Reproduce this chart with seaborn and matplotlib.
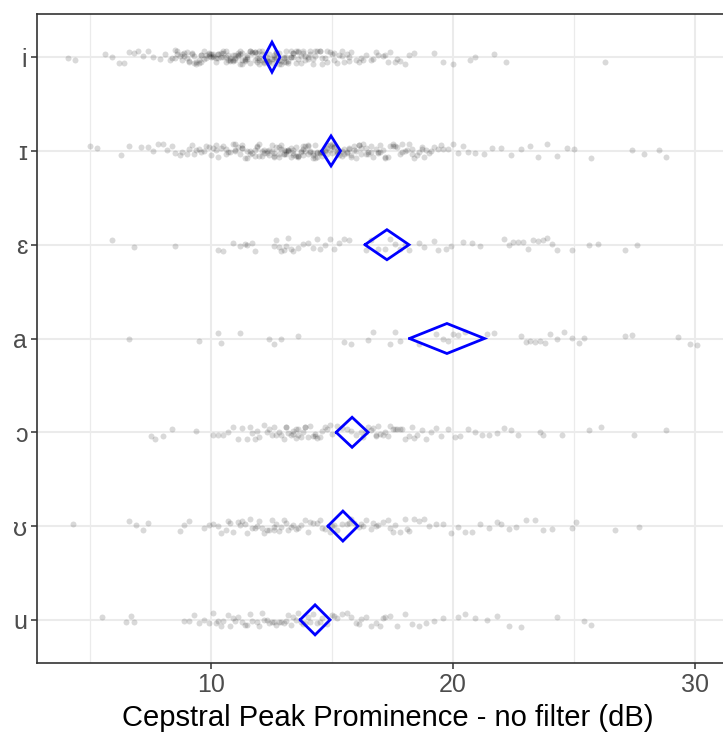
import numpy as np
import pandas as pd
import matplotlib
matplotlib.use("Agg")
import matplotlib.pyplot as plt
import seaborn as sns
from matplotlib.ticker import MultipleLocator

vowels = ["i", "ɪ", "ɛ", "a", "ɔ", "ʊ", "u"]

i_vals = [4.1, 4.4, 5.6, 5.9, 6.2, 6.4, 6.6, 6.8, 7.0, 7.2, 7.4, 7.6, 7.9, 8.1,
          8.3, 8.4, 8.5, 8.5, 8.6, 8.7, 8.8, 8.8, 8.9, 9.0, 9.0, 9.1, 9.2, 9.2, 9.3, 9.3,
          9.4, 9.5, 9.5, 9.6, 9.6, 9.7, 9.7, 9.8, 9.8, 9.9, 9.9, 10.0, 10.0, 10.1, 10.1,
          10.2, 10.2, 10.3, 10.3, 10.4, 10.4, 10.5, 10.5, 10.6, 10.6, 10.7, 10.7, 10.8,
          10.8, 10.9, 10.9, 11.0, 11.0, 11.0, 11.1, 11.1, 11.2, 11.2, 11.3, 11.3, 11.3,
          11.4, 11.4, 11.5, 11.5, 11.6, 11.6, 11.7, 11.7, 11.8, 11.8, 11.9, 11.9, 12.0,
          12.0, 12.0, 12.1, 12.1, 12.2, 12.2, 12.3, 12.3, 12.4, 12.4, 12.5, 12.5, 12.6,
          12.6, 12.7, 12.7, 12.8, 12.8, 12.9, 12.9, 13.0, 13.0, 13.1, 13.1, 13.2, 13.2,
          13.3, 13.3, 13.4, 13.4, 13.5, 13.5, 13.6, 13.6, 13.7, 13.8, 13.8, 13.9, 14.0,
          14.0, 14.1, 14.2, 14.2, 14.3, 14.4, 14.5, 14.5, 14.6, 14.7, 14.8, 14.9, 15.0,
          15.1, 15.2, 15.3, 15.4, 15.5, 15.6, 15.7, 15.8, 16.0, 16.1, 16.3, 16.4, 16.6,
          16.8, 16.9, 17.1, 17.3, 17.4, 17.6, 17.8, 18.0, 18.2, 18.4, 19.2, 19.6, 20.0,
          20.7, 20.9, 21.7, 22.2, 26.3,
          8.6, 8.9, 9.1, 9.4, 9.6, 9.9, 10.1, 10.3, 10.5, 10.6, 10.8, 10.9, 11.1, 11.2,
          11.4, 11.5, 11.6, 11.8, 11.9, 12.0, 12.1, 12.3, 12.4, 12.6, 12.7, 12.8, 13.0,
          13.1, 13.3, 13.4, 13.6, 13.7, 13.9, 14.1, 14.3, 14.6, 14.8, 15.1, 15.4, 15.7,
          16.2, 16.7, 17.2, 17.7]

I_vals = [5.0, 5.3, 6.3, 6.6, 7.1, 7.4, 7.6, 7.8, 8.0, 8.2, 8.4, 8.5, 8.7, 8.8, 9.0,
          9.1, 9.2, 9.4, 9.5, 9.6, 9.8, 9.9, 10.0, 10.1, 10.2, 10.3, 10.4, 10.5, 10.6,
          10.7, 10.8, 10.9, 11.0, 11.0, 11.1, 11.2, 11.3, 11.3, 11.4, 11.5, 11.5, 11.6,
          11.7, 11.8, 11.8, 11.9, 12.0, 12.0, 12.1, 12.2, 12.2, 12.3, 12.4, 12.4, 12.5,
          12.5, 12.6, 12.6, 12.7, 12.8, 12.8, 12.9, 12.9, 13.0, 13.0, 13.1, 13.1, 13.2,
          13.2, 13.3, 13.3, 13.4, 13.4, 13.5, 13.5, 13.6, 13.6, 13.7, 13.7, 13.8, 13.8,
          13.9, 13.9, 14.0, 14.0, 14.1, 14.1, 14.2, 14.2, 14.3, 14.3, 14.4, 14.4, 14.5,
          14.5, 14.6, 14.6, 14.7, 14.7, 14.8, 14.8, 14.9, 14.9, 15.0, 15.0, 15.1, 15.1,
          15.2, 15.2, 15.3, 15.3, 15.4, 15.5, 15.5, 15.6, 15.6, 15.7, 15.8, 15.8, 15.9,
          16.0, 16.0, 16.1, 16.2, 16.2, 16.3, 16.4, 16.5, 16.5, 16.6, 16.7, 16.8, 16.9,
          17.0, 17.0, 17.1, 17.2, 17.3, 17.4, 17.5, 17.6, 17.7, 17.8, 17.9, 18.0, 18.1,
          18.2, 18.3, 18.4, 18.5, 18.6, 18.7, 18.8, 18.9, 19.0, 19.2, 19.4, 19.6, 19.8,
          20.0, 20.2, 20.4, 20.6, 20.9, 21.3, 21.6, 22.0, 22.4, 22.8, 23.2, 23.5, 23.9,
          24.3, 24.7, 25.0, 25.7, 27.4, 27.9, 28.5, 28.8,
          9.3, 9.7, 10.2, 10.6, 11.0, 11.3, 11.6, 11.9, 12.1, 12.3, 12.6, 12.8, 13.0,
          13.2, 13.4, 13.6, 13.8, 14.0, 14.2, 14.4, 14.6, 14.8, 15.0, 15.2, 15.4, 15.7,
          15.9, 16.1, 16.4, 16.6, 16.9, 17.2, 17.5, 17.9, 18.3, 18.7, 19.1, 19.5]

E_vals = [5.9, 6.8, 8.5, 10.3, 10.5, 10.9, 11.2, 11.4, 11.5, 11.7, 11.8, 12.6, 12.7,
          12.8, 12.9, 13.0, 13.1, 13.2, 13.3, 13.4, 13.6, 13.8, 14.0, 14.2, 14.4, 14.5,
          14.7, 14.9, 15.1, 15.3, 15.5, 15.7, 16.4, 16.6, 16.9, 17.2, 17.4, 17.6, 17.8,
          18.0, 18.2, 18.6, 18.8, 19.2, 19.4, 19.7, 19.9, 20.4, 20.8, 21.1, 22.1, 22.3,
          22.5, 22.7, 22.9, 23.1, 23.3, 23.5, 23.7, 23.9, 24.1, 24.3, 24.9, 25.6, 26.0,
          27.1, 27.6]

a_vals = [6.6, 9.5, 10.3, 10.4, 11.2, 12.4, 12.6, 12.9, 13.6, 15.5, 15.8, 16.5, 16.7,
          17.4, 17.6, 17.8, 18.6, 19.3, 19.6, 19.8, 20.0, 20.2, 20.5, 21.4, 21.7, 22.8,
          23.0, 23.2, 23.4, 23.6, 23.8, 24.0, 24.3, 24.6, 24.9, 25.2, 25.4, 27.1, 27.4,
          29.3, 29.8, 30.1]

O_vals = [7.5, 7.7, 8.0, 8.4, 9.4, 10.1, 10.3, 10.5, 10.7, 10.9, 11.1, 11.3, 11.5,
          11.6, 11.8, 11.9, 12.0, 12.2, 12.3, 12.4, 12.5, 12.7, 12.8, 12.9, 13.0, 13.1,
          13.2, 13.3, 13.4, 13.5, 13.5, 13.6, 13.7, 13.8, 13.9, 14.0, 14.1, 14.2, 14.3,
          14.4, 14.5, 14.6, 14.7, 14.8, 14.9, 15.0, 15.2, 15.4, 15.6, 15.8, 16.0, 16.2,
          16.4, 16.5, 16.6, 16.7, 16.8, 16.9, 17.0, 17.1, 17.2, 17.4, 17.5, 17.6, 17.8,
          17.9, 18.0, 18.2, 18.4, 18.5, 18.7, 18.9, 19.1, 19.3, 19.5, 19.8, 20.1, 20.3,
          20.6, 20.9, 21.2, 21.5, 21.8, 22.1, 22.4, 22.7, 23.6, 23.7, 24.5, 25.6, 26.1,
          27.5, 28.8,
          11.7, 12.6, 13.1, 13.4, 13.6, 13.9, 14.3, 16.3, 16.8, 17.3, 17.7, 18.3]

U_vals = [4.3, 6.6, 6.9, 7.2, 7.4, 8.7, 8.9, 9.1, 9.7, 9.9, 10.1, 10.3, 10.4, 10.6,
          10.8, 10.9, 11.1, 11.2, 11.4, 11.5, 11.6, 11.8, 11.9, 12.0, 12.1, 12.3, 12.4,
          12.5, 12.6, 12.7, 12.8, 12.9, 13.0, 13.2, 13.3, 13.4, 13.6, 13.7, 13.9, 14.0,
          14.2, 14.4, 14.5, 14.7, 14.9, 15.0, 15.2, 15.4, 15.6, 15.7, 15.9, 16.1, 16.2,
          16.4, 16.6, 16.7, 16.9, 17.1, 17.3, 17.4, 17.6, 17.8, 18.0, 18.2, 18.4, 18.6,
          18.8, 19.0, 19.3, 19.6, 19.9, 20.2, 20.5, 20.8, 21.1, 21.5, 21.8, 22.0, 22.3,
          22.6, 23.0, 23.4, 23.7, 24.1, 24.9, 25.1, 26.7, 27.7,
          10.7, 11.3, 11.7, 12.2, 12.6, 13.1, 13.5, 14.1, 14.6, 15.1, 15.8, 16.3, 16.8,
          17.5, 18.1]

u_vals = [5.5, 6.5, 6.7, 6.8, 8.9, 9.1, 9.3, 9.5, 9.7, 9.9, 10.1, 10.2, 10.4, 10.5,
          10.7, 10.8, 11.0, 11.1, 11.3, 11.4, 11.6, 11.7, 11.9, 12.0, 12.1, 12.3, 12.4,
          12.5, 12.7, 12.8, 12.9, 13.1, 13.2, 13.3, 13.5, 13.6, 13.8, 13.9, 14.1, 14.2,
          14.4, 14.6, 14.8, 15.0, 15.2, 15.4, 15.6, 15.8, 16.0, 16.2, 16.4, 16.6, 16.8,
          17.0, 17.2, 17.4, 17.7, 18.0, 18.3, 18.6, 18.9, 19.2, 19.6, 20.2, 20.5, 20.9,
          21.4, 21.8, 22.3, 22.8, 24.3, 25.4, 25.7,
          10.3, 10.9, 11.5, 12.2, 12.6, 13.0, 13.4, 13.7, 14.0, 14.5, 15.1, 16.1, 17.1]

# mean and confidence half-width for each vowel (blue diamonds)
means = [12.52, 14.96, 17.27, 19.75, 15.83, 15.45, 14.30]
ci_half = [0.33, 0.39, 0.91, 1.55, 0.66, 0.62, 0.62]

x_label = "Cepstral Peak Prominence - no filter (dB)"

series = [i_vals, I_vals, E_vals, a_vals, O_vals, U_vals, u_vals]
df = pd.DataFrame({
    "vowel": np.concatenate([[v] * len(s) for v, s in zip(vowels, series)]),
    "cpp": np.concatenate([np.asarray(s, dtype=float) for s in series]),
})

sns.set_theme(style="white")
plt.rcParams["font.family"] = ["Liberation Sans", "DejaVu Sans"]

fig = plt.figure(figsize=(7.23, 7.34), dpi=100)
left_px, right_px, top_px, bot_px = 37, 738, 14, 663
ax = fig.add_axes([left_px / 723, 1 - bot_px / 734,
                   (right_px - left_px) / 723, (bot_px - top_px) / 734])

np.random.seed(3)
sns.stripplot(data=df, x="cpp", y="vowel", order=vowels, orient="h",
              jitter=0.075, color="black", alpha=0.15, size=4.3, linewidth=0,
              ax=ax, zorder=3)

# diamonds
dh = 0.16
for k, (m, c) in enumerate(zip(means, ci_half)):
    xs = [m - c, m, m + c, m, m - c]
    ys = [k, k - dh, k, k + dh, k]
    ax.plot(xs, ys, color="#0000FF", lw=2.0, zorder=5, solid_joinstyle="miter")

px_per_unit = 24.2
ax.set_xlim(10 - (211 - left_px) / px_per_unit, 10 + (right_px - 211) / px_per_unit)
ax.set_ylim(6.46, -0.46)

ax.xaxis.set_major_locator(MultipleLocator(10))
ax.xaxis.set_minor_locator(MultipleLocator(5))
ax.grid(which="major", axis="both", color="#EBEBEB", lw=1.5, zorder=0)
ax.grid(which="minor", axis="x", color="#EBEBEB", lw=0.9, zorder=0)
ax.set_axisbelow(True)

for name, sp in ax.spines.items():
    sp.set_color("#333333")
    sp.set_linewidth(1.2)
ax.spines["right"].set_visible(False)

ax.tick_params(axis="both", which="major", length=4, width=1.1, color="#333333",
               labelcolor="#4D4D4D", labelsize=18, pad=3)
ax.tick_params(axis="x", which="minor", length=0)
ax.tick_params(left=True, bottom=True)

ax.set_xlabel(x_label, fontsize=21, color="black", labelpad=5)
ax.set_ylabel("")

fig.savefig("out.png", dpi=100)
